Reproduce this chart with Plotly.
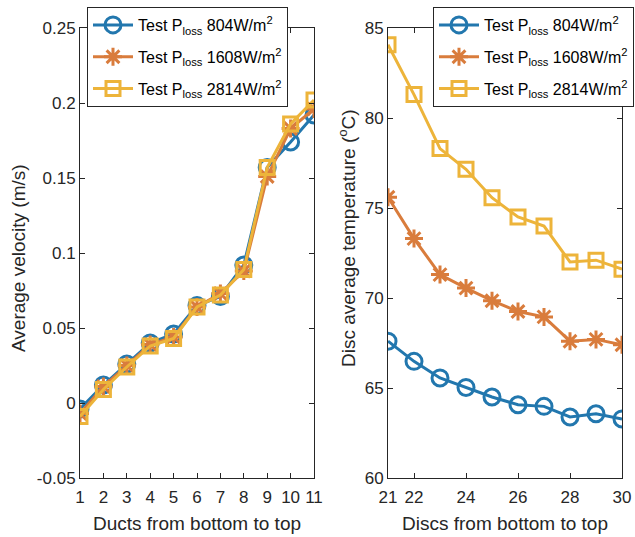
import plotly.graph_objects as go

ducts = [1, 2, 3, 4, 5, 6, 7, 8, 9, 10, 11]
vel_804 = [-0.004, 0.012, 0.026, 0.040, 0.046, 0.065, 0.071, 0.092, 0.157, 0.174, 0.192]
vel_1608 = [-0.007, 0.011, 0.025, 0.039, 0.044, 0.064, 0.073, 0.088, 0.151, 0.183, 0.196]
vel_2814 = [-0.009, 0.009, 0.024, 0.038, 0.043, 0.064, 0.072, 0.089, 0.157, 0.186, 0.202]

discs = [21, 22, 23, 24, 25, 26, 27, 28, 29, 30]
temp_804 = [67.6, 66.48, 65.56, 65.03, 64.5, 64.07, 63.98, 63.39, 63.57, 63.28]
temp_1608 = [75.6, 73.3, 71.3, 70.55, 69.85, 69.25, 68.95, 67.6, 67.7, 67.4]
temp_2814 = [84.07, 81.3, 78.3, 77.15, 75.57, 74.5, 74.0, 72.0, 72.1, 71.6]

vel_ticks = [-0.05, 0, 0.05, 0.1, 0.15, 0.2, 0.25]
vel_ticktext = ["-0.05", "0", "0.05", "0.1", "0.15", "0.2", "0.25"]
temp_ticks = [60, 65, 70, 75, 80, 85]
disc_ticks = [21, 22, 24, 26, 28, 30]

names = ["Test P<sub>loss</sub> 804W/m<sup>2</sup>",
         "Test P<sub>loss</sub> 1608W/m<sup>2</sup>",
         "Test P<sub>loss</sub> 2814W/m<sup>2</sup>"]
colors = ["#2277AE", "#D97C3C", "#EDB43A"]
symbols = ["circle-open", "asterisk-open", "square-open"]
msizes = [16, 15, 14]

W, H = 635, 537
fig = go.Figure()

for i, ys in enumerate([vel_804, vel_1608, vel_2814]):
    fig.add_trace(go.Scatter(
        x=ducts, y=ys, mode="lines+markers", name=names[i],
        legendgroup="a%d" % i,
        line=dict(color=colors[i], width=3),
        marker=dict(symbol=symbols[i], size=msizes[i], color=colors[i],
                    line=dict(color=colors[i], width=3)),
        xaxis="x", yaxis="y", legend="legend"))

for i, ys in enumerate([temp_804, temp_1608, temp_2814]):
    fig.add_trace(go.Scatter(
        x=discs, y=ys, mode="lines+markers", name=names[i],
        legendgroup="b%d" % i,
        line=dict(color=colors[i], width=3),
        marker=dict(symbol=symbols[i], size=msizes[i], color=colors[i],
                    line=dict(color=colors[i], width=3)),
        xaxis="x2", yaxis="y2", legend="legend2"))

axcol = "#262626"
font = "Liberation Sans, Arial, sans-serif"
common = dict(showline=True, linecolor=axcol, linewidth=1, mirror="ticks",
              ticks="inside", ticklen=5, tickcolor=axcol, showgrid=False,
              zeroline=False, automargin=False,
              tickfont=dict(size=17, color=axcol, family=font))
tfont = dict(size=19, color=axcol, family=font)

ybot = 1 - 478 / H
ytop = 1 - 28 / H

legcommon = dict(xanchor="left", yanchor="top",
                 bgcolor="white", bordercolor=axcol, borderwidth=1,
                 itemwidth=40, tracegroupgap=8,
                 font=dict(size=16, color="#000000", family=font))

fig.update_layout(
    width=W, height=H,
    margin=dict(l=0, r=0, t=0, b=0, autoexpand=False),
    paper_bgcolor="white", plot_bgcolor="white",
    font=dict(family=font, color=axcol),
    xaxis=dict(domain=[80 / W, 314 / W], range=[1, 11], tickvals=ducts,
               ticklabelstandoff=4,
               title=dict(text="Ducts from bottom to top", font=tfont, standoff=10),
               anchor="y", **common),
    yaxis=dict(domain=[ybot, ytop], range=[-0.05, 0.25],
               tickvals=vel_ticks, ticktext=vel_ticktext,
               anchor="x", **common),
    xaxis2=dict(domain=[388 / W, 622 / W], range=[21, 30], tickvals=disc_ticks,
                ticklabelstandoff=4,
                title=dict(text="Discs from bottom to top", font=tfont, standoff=10),
                anchor="y2", **common),
    yaxis2=dict(domain=[ybot, ytop], range=[60, 85], tickvals=temp_ticks,
                anchor="x2", **common),
    legend=dict(x=87 / W, y=1 - 7 / H, **legcommon),
    legend2=dict(x=433 / W, y=1 - 7 / H, **legcommon),
    showlegend=True,
    annotations=[
        dict(text="Average velocity (m/s)", textangle=-90, showarrow=False,
             xref="paper", yref="paper", x=18 / W, y=1 - 258 / H,
             xanchor="center", yanchor="middle", font=tfont),
        dict(text="Disc average temperature (<sup>o</sup>C)", textangle=-90, showarrow=False,
             xref="paper", yref="paper", x=347 / W, y=1 - 238 / H,
             xanchor="center", yanchor="middle", font=tfont),
    ],
)

fig.write_html("out.html")
